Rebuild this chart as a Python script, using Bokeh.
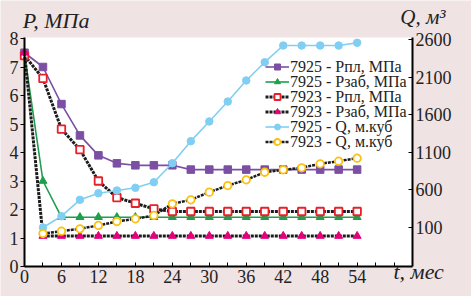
from bokeh.plotting import figure
from bokeh.models import Range1d, LinearAxis, FixedTicker, Legend, LegendItem, Label, BoxAnnotation
from bokeh.embed import file_html
from bokeh.resources import INLINE

# ---- data ----
t = [0, 3, 6, 9, 12, 15, 18, 21, 24, 27, 30, 33, 36, 39, 42, 45, 48, 51, 54]
t_q = [3, 6, 9, 12, 15, 18, 21, 24, 27, 30, 33, 36, 39, 42, 45, 48, 51, 54]

p_7925_pl = [7.5, 7.0, 5.7, 4.6, 3.9, 3.62, 3.55, 3.55, 3.55, 3.4, 3.4, 3.4, 3.4, 3.4, 3.4, 3.4, 3.4, 3.4, 3.4]
p_7925_zab = [7.45, 3.0, 1.73, 1.73, 1.73, 1.73, 1.73, 1.73, 1.73, 1.73, 1.73, 1.73, 1.73, 1.73, 1.73, 1.73, 1.73, 1.73, 1.73]
p_7923_pl = [7.4, 6.6, 4.82, 4.1, 3.0, 2.42, 2.22, 2.02, 1.93, 1.93, 1.93, 1.93, 1.93, 1.93, 1.93, 1.93, 1.93, 1.93, 1.93]
p_7923_zab = [7.5, 1.07, 1.07, 1.07, 1.07, 1.07, 1.07, 1.07, 1.07, 1.07, 1.07, 1.07, 1.07, 1.07, 1.07, 1.07, 1.07, 1.07, 1.07]
q_7925 = [100, 250, 468, 556, 592, 628, 702, 955, 1248, 1510, 1775, 2055, 2298, 2520, 2520, 2520, 2520, 2556]
q_7923 = [20, 51, 83, 127, 180, 216, 260, 415, 468, 570, 658, 734, 835, 867, 894, 947, 982, 1022]

x_ticks = list(range(0, 61, 3))
p_ticks = [0, 1, 2, 3, 4, 5, 6, 7, 8]
q_ticks = [100, 600, 1100, 1600, 2100, 2600]

names = ["7925 - Рпл, МПа", "7925 - Рзаб, МПа", "7923 - Рпл, МПа",
         "7923 - Рзаб, МПа", "7925 - Q, м.куб", "7923 - Q, м.куб"]

FONT = "Liberation Serif"
BG = "#f0e3e3"
TXT = "#222222"

W, H = 471, 296
X0, XPX = 24.0, 6.16        # pixel of t=0, px per month
Y0, YPX = 266.0, 28.5       # pixel of P=0, px per MPa
QY100, QPX = 227.0, 0.0752  # pixel of Q=100, px per m3

x_lo, x_hi = -X0 / XPX, (W - X0) / XPX
p_lo, p_hi = (Y0 - H) / YPX, Y0 / YPX
q_lo, q_hi = 100 - (H - QY100) / QPX, 100 + QY100 / QPX
T_MAX, P_MAX = 63, 8.035
Q_BOT = 100 - (Y0 - QY100) / QPX
Q_TOP = 100 + (QY100 - (Y0 - P_MAX * YPX)) / QPX

p = figure(width=W, height=H, output_backend="svg", toolbar_location=None,
           x_range=Range1d(x_lo, x_hi), y_range=Range1d(p_lo, p_hi),
           min_border_left=0, min_border_right=0, min_border_top=0, min_border_bottom=0)
p.extra_y_ranges = {"q": Range1d(q_lo, q_hi)}
p.background_fill_color = BG
p.border_fill_color = BG
p.outline_line_color = None
p.xgrid.visible = False
p.ygrid.visible = False

p.add_layout(BoxAnnotation(left=0, right=T_MAX, bottom=0, top=P_MAX, fill_color="white",
                           fill_alpha=1, line_alpha=0, level="underlay"))

xa = p.xaxis[0]
xa.fixed_location = 0
xa.bounds = (0, T_MAX)
xa.ticker = FixedTicker(ticks=x_ticks)
ov = {v: "" for v in x_ticks if v % 6 != 0}
ov[60] = ""
xa.major_label_overrides = ov
xa.minor_tick_line_color = None
xa.major_tick_in = 4
xa.major_tick_out = 0
xa.axis_line_width = 2
xa.major_label_standoff = 3
xa.major_label_text_font = FONT
xa.major_label_text_font_size = "18px"
xa.major_label_text_color = TXT

ya = p.yaxis[0]
ya.fixed_location = 0
ya.bounds = (0, P_MAX)
ya.ticker = FixedTicker(ticks=p_ticks)
ya.minor_tick_line_color = None
ya.major_tick_in = 0
ya.major_tick_out = 4
ya.axis_line_width = 2
ya.major_label_standoff = 2
ya.major_label_text_font = FONT
ya.major_label_text_font_size = "18px"
ya.major_label_text_color = TXT

ra = LinearAxis(y_range_name="q", ticker=FixedTicker(ticks=q_ticks), fixed_location=T_MAX,
                bounds=(Q_BOT, Q_TOP))
ra.minor_tick_line_color = None
ra.major_tick_in = 4
ra.major_tick_out = 0
ra.axis_line_width = 2
ra.major_label_standoff = 3
ra.major_label_text_font = FONT
ra.major_label_text_font_size = "18px"
ra.major_label_text_color = TXT
p.add_layout(ra, "right")

PURPLE = "#7b4fa3"
GREEN = "#1f9e4c"
RED = "#e8202a"
MAGENTA = "#e4007c"
BLUE = "#80cff3"
ORANGE = "#fcc10f"
BLACK = "#1c1c1c"

l1 = p.line(t, p_7925_pl, line_color=PURPLE, line_width=1.6)
s1 = p.scatter(t, p_7925_pl, marker="square", size=7.5, fill_color=PURPLE, line_color=PURPLE)

l2 = p.line(t, p_7925_zab, line_color=GREEN, line_width=1.6)
s2 = p.scatter(t, p_7925_zab, marker="triangle", size=8, fill_color=GREEN, line_color=GREEN)

l3 = p.line(t, p_7923_pl, line_color=BLACK, line_width=3, line_dash="3 1")
s3 = p.scatter(t, p_7923_pl, marker="square", size=7.5, fill_color="white", line_color=RED, line_width=1.8)

l4 = p.line(t, p_7923_zab, line_color=BLACK, line_width=3, line_dash="3 1")
s4 = p.scatter(t, p_7923_zab, marker="triangle", size=8, fill_color=MAGENTA, line_color=MAGENTA)

l5 = p.line(t_q, q_7925, line_color=BLUE, line_width=1.6, y_range_name="q")
s5 = p.scatter(t_q, q_7925, marker="circle", size=7.5, fill_color=BLUE, line_color=BLUE, y_range_name="q")

l6 = p.line(t_q, q_7923, line_color=BLACK, line_width=2.5, line_dash="3 1", y_range_name="q")
s6 = p.scatter(t_q, q_7923, marker="circle", size=7.5, fill_color="white", line_color=ORANGE,
               line_width=1.8, y_range_name="q")

# one legend per row so that rows can sit 15 px apart
rends = [[l1, s1], [l2, s2], [l3, s3], [l4, s4], [l5, s5], [l6, s6]]
ROW_H = 17.7
for i, (n, r) in enumerate(zip(names, rends)):
    cy = 67 + 15 * i
    leg = Legend(items=[LegendItem(label=n, renderers=r)],
                 location=(265, H - (cy + ROW_H / 2)), background_fill_alpha=0,
                 border_line_alpha=0, padding=0, margin=0, spacing=0,
                 label_height=15, glyph_height=15, glyph_width=24, label_standoff=1,
                 label_text_font=FONT, label_text_font_size="16px",
                 label_text_color=TXT)
    p.add_layout(leg, "center")

p.add_layout(Label(x=-0.3, y=8.21, text="P, МПа", text_font=FONT, text_font_style="italic",
                   text_font_size="22px", text_color=TXT))
p.add_layout(Label(x=61.0, y=8.35, text="Q, м³", text_font=FONT, text_font_style="italic",
                   text_font_size="21px", text_color=TXT))
p.add_layout(Label(x=59.9, y=-0.6, text="t, мес", text_font=FONT, text_font_style="italic",
                   text_font_size="22px", text_color=TXT))

open("out.html", "w").write(file_html(p, INLINE))
